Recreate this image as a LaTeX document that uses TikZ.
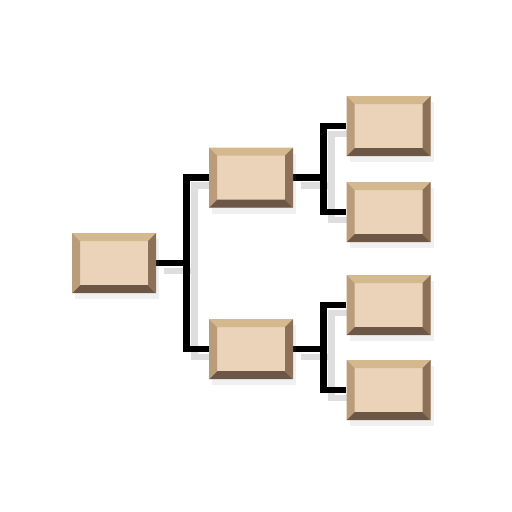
\documentclass[tikz,border=0pt]{standalone}
\usepackage{tikz}
\usetikzlibrary{backgrounds,shadows}

\definecolor{facec}{RGB}{234,211,185}
\definecolor{topc}{RGB}{212,184,142}
\definecolor{leftc}{RGB}{186,156,122}
\definecolor{rightc}{RGB}{140,112,88}
\definecolor{botc}{RGB}{108,86,70}
\definecolor{shadc}{RGB}{222,222,222}

\def\ppb{path picture bounding box}
\tikzset{
  bevelbox/.style={rectangle, fill=facec, minimum width=84pt, minimum height=60pt, inner sep=0pt,
    drop shadow={opacity=0.12, shadow xshift=3pt, shadow yshift=-6pt},
    path picture={
      \fill[topc] (\ppb.north west) -- (\ppb.north east) -- ([shift={(-8pt,-8pt)}]\ppb.north east) -- ([shift={(8pt,-8pt)}]\ppb.north west) -- cycle;
      \fill[botc] (\ppb.south west) -- (\ppb.south east) -- ([shift={(-8pt,8pt)}]\ppb.south east) -- ([shift={(8pt,8pt)}]\ppb.south west) -- cycle;
      \fill[leftc] (\ppb.north west) -- ([shift={(8pt,-8pt)}]\ppb.north west) -- ([shift={(8pt,8pt)}]\ppb.south west) -- (\ppb.south west) -- cycle;
      \fill[rightc] (\ppb.north east) -- ([shift={(-8pt,-8pt)}]\ppb.north east) -- ([shift={(-8pt,8pt)}]\ppb.south east) -- (\ppb.south east) -- cycle;
    }},
  link/.style={line width=6.5pt, line join=miter},
  linkshadow/.style={link, draw=shadc, transform canvas={shift={(8pt,-8pt)}}}
}

\begin{document}
\begin{tikzpicture}[x=1pt, y=-1pt]
  \useasboundingbox (0,0) rectangle (512,512);

  % the boxes
  \node[bevelbox] (root) at (114,263) {};
  \node[bevelbox] (mida) at (251,177.5) {};
  \node[bevelbox] (midb) at (251,349) {};
  \node[bevelbox] (leafa) at (388.5,126) {};
  \node[bevelbox] (leafb) at (388.5,212) {};
  \node[bevelbox] (leafc) at (388.5,305) {};
  \node[bevelbox] (leafd) at (388.5,390) {};

  % the links
  \coordinate (ja) at (186.5,263);
  \coordinate (jb) at (323.5,177.5);
  \coordinate (jc) at (323.5,349);
  \begin{scope}[on background layer]
    \foreach \c in {linkshadow, link} {
      \draw[\c] (root.east) -- (ja);
      \draw[\c] (mida.west) -| (ja) |- (midb.west);
      \draw[\c] (mida.east) -- (jb);
      \draw[\c] (leafa.west) -| (jb) |- (leafb.west);
      \draw[\c] (midb.east) -- (jc);
      \draw[\c] (leafc.west) -| (jc) |- (leafd.west);
    }
  \end{scope}
\end{tikzpicture}
\end{document}
